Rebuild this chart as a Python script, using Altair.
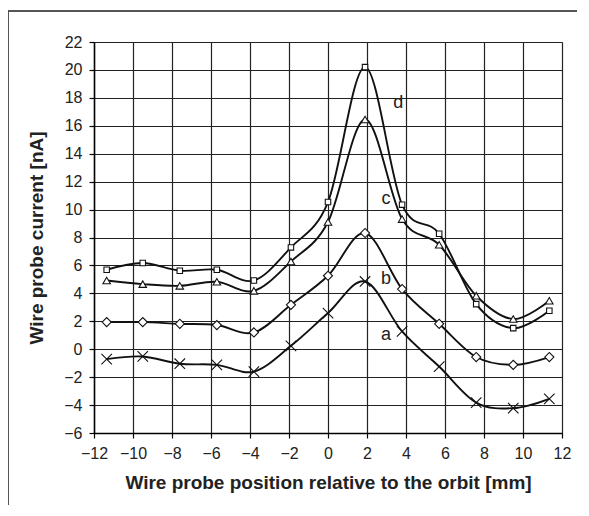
import altair as alt
import pandas as pd

positions = [-11.35, -9.5, -7.6, -5.7, -3.8, -1.9, 0.0, 1.9, 3.8, 5.7, 7.6, 9.5, 11.35]
series_a = [-0.71, -0.52, -1.04, -1.12, -1.60, 0.24, 2.59, 4.85, 1.27, -1.24, -3.82, -4.22, -3.55]
series_b = [1.94, 1.94, 1.82, 1.73, 1.20, 3.18, 5.26, 8.32, 4.31, 1.82, -0.56, -1.12, -0.56]
series_c = [4.92, 4.66, 4.54, 4.83, 4.18, 6.28, 9.11, 16.45, 9.32, 7.48, 3.83, 2.16, 3.47]
series_d = [5.69, 6.17, 5.62, 5.69, 4.92, 7.29, 10.54, 20.2, 10.35, 8.27, 3.23, 1.51, 2.75]
series_names = ["a", "b", "c", "d"]

label_text = ["a", "b", "c", "d"]
label_x = [2.97, 2.97, 2.97, 3.6]
label_y = [1.03, 5.02, 10.75, 17.63]

x_ticks = list(range(-12, 13, 2))
y_ticks = list(range(-6, 23, 2))

rows = []
for name, vals in zip(series_names, [series_a, series_b, series_c, series_d]):
    for xv, yv in zip(positions, vals):
        rows.append({"series": name, "x": xv, "y": yv})
df = pd.DataFrame(rows)
labels = pd.DataFrame({"t": label_text, "x": label_x, "y": label_y})

W, H = 468, 391
FONT = "Liberation Sans"

xaxis = alt.Axis(values=x_ticks, tickCount=len(x_ticks), labelOverlap=False,
                 title="Wire probe position relative to the orbit [mm]",
                 grid=True, gridColor="#222", gridWidth=1.2, domainColor="#000", domainWidth=1.5,
                 tickColor="#000", tickSize=5, tickWidth=1.2, labelFont=FONT, labelFontSize=16,
                 labelColor="#222", labelPadding=7, titleFont=FONT, titleFontSize=19,
                 titleFontWeight="bold", titleColor="#222", titleBaseline="alphabetic",
                 titleY=55, labelFlush=False)
yaxis = alt.Axis(values=y_ticks, tickCount=len(y_ticks), labelOverlap=False,
                 title="Wire probe current [nA]",
                 grid=True, gridColor="#222", gridWidth=1.2, domainColor="#000", domainWidth=1.5,
                 tickColor="#000", tickSize=5, tickWidth=1.2, labelFont=FONT, labelFontSize=16,
                 labelColor="#222", labelPadding=7, titleFont=FONT, titleFontSize=19,
                 titleFontWeight="bold", titleColor="#222", titleBaseline="alphabetic",
                 titleX=-52, titleY=H / 2, titleAlign="center", labelFlush=False)
xscale = alt.Scale(domain=[-12, 12], nice=False)
yscale = alt.Scale(domain=[-6, 22], nice=False)


def X():
    return alt.X("x:Q", scale=xscale, axis=xaxis)


def Y():
    return alt.Y("y:Q", scale=yscale, axis=yaxis)


lines = alt.Chart(df).mark_line(interpolate="cardinal", color="#111", strokeWidth=1.9).encode(
    x=X(), y=Y(), detail="series:N")

points = alt.Chart(df).mark_point(filled=False, fill="white", fillOpacity=1, stroke="#111",
                                  strokeWidth=1.1, opacity=1).encode(
    x=X(), y=Y(),
    shape=alt.Shape("series:N", scale=alt.Scale(domain=series_names,
                    range=["M-1,-1L1,1M-1,1L1,-1", "diamond", "triangle-up", "square"]), legend=None),
    size=alt.Size("series:N", scale=alt.Scale(domain=series_names, range=[110, 30, 50, 42]), legend=None))

texts = alt.Chart(labels).mark_text(font=FONT, fontSize=18, color="#222", align="center",
                                    baseline="middle").encode(x=X(), y=Y(), text="t:N")

frame_top = alt.Chart(labels).mark_rule(color="#555", strokeWidth=1.5).encode(
    x=alt.value(-86), x2=alt.value(W + 20), y=alt.value(-31))
frame_left = alt.Chart(labels).mark_rule(color="#555", strokeWidth=1.5).encode(
    x=alt.value(-86), y=alt.value(-31), y2=alt.value(H + 80))

chart = alt.layer(lines, points, texts, frame_top, frame_left).properties(
    width=W, height=H,
    autosize=alt.AutoSizeParams(type="none"),
    padding={"left": 86, "top": 34, "right": 15, "bottom": 72},
).configure_view(stroke="#000", strokeWidth=1.5).configure(background="white")

chart.save("out.html", embed_options={"renderer": "svg", "actions": False})
